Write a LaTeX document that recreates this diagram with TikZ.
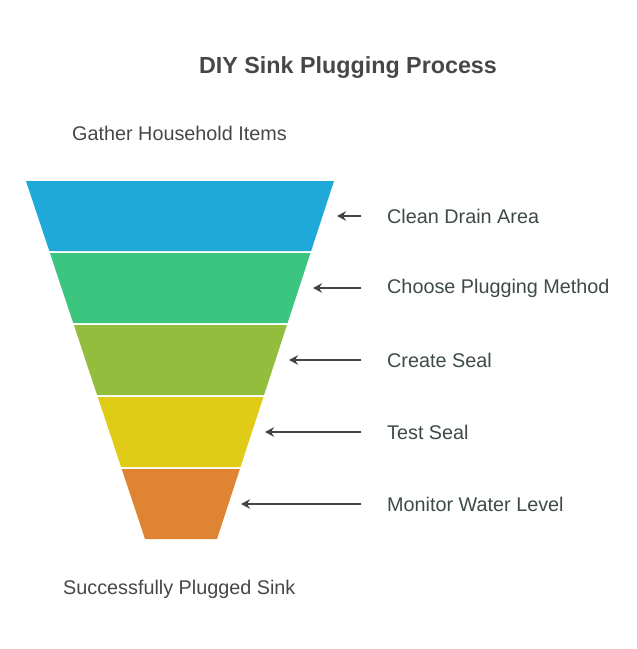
\documentclass[tikz,border=0pt]{standalone}
\usepackage{fontspec}
\setmainfont{Liberation Sans}
\usetikzlibrary{arrows.meta}
\definecolor{cBlue}{HTML}{1FA9D8}
\definecolor{cGreen}{HTML}{3CC57F}
\definecolor{cOlive}{HTML}{93BD3C}
\definecolor{cYellow}{HTML}{E0CB17}
\definecolor{cOrange}{HTML}{DF8432}
\definecolor{cText}{HTML}{3D4A48}
\definecolor{cTitle}{HTML}{474747}
\definecolor{cArrow}{HTML}{444444}
\begin{document}
\begin{tikzpicture}[x=1pt, y=-1pt, line join=round,
	step label/.style={anchor=west, inner sep=0pt, text=cText, font=\fontsize{19.8}{22}\selectfont},
	end label/.style={anchor=west, inner sep=0pt, text=cTitle, font=\fontsize{19.8}{22}\selectfont},
	arr/.style={-{Stealth[length=9pt, width=9.5pt]}, draw=cArrow, fill=cArrow, line width=2pt}]
		\useasboundingbox (0,0) rectangle (637,649);
		% funnel bands
		\foreach \yt/\col in {181/cBlue, 253/cGreen, 325/cOlive, 397/cYellow, 469/cOrange}{
			\pgfmathsetmacro{\yb}{\yt+70}
			\pgfmathsetmacro{\lt}{26+0.3324*(\yt-181)}
			\pgfmathsetmacro{\lb}{26+0.3324*(\yb-181)}
			\pgfmathsetmacro{\rt}{334-0.3268*(\yt-181)}
			\pgfmathsetmacro{\rb}{334-0.3268*(\yb-181)}
			\fill[\col] (\lt,\yt) -- (\rt,\yt) -- (\rb,\yb) -- (\lb,\yb) -- cycle;
		}
		\node (title) at (348,67.5) {\fontsize{23.3}{26}\selectfont\bfseries\color{cTitle}DIY Sink Plugging Process};
		\node[end label] (start) at (72,133) {Gather Household Items};
		\node[end label] (finish) at (63,589) {Successfully Plugged Sink};
		\node[step label] (s1) at (387,216.5) {Clean Drain Area};
		\node[step label] (s2) at (387,288.5) {Choose Plugging Method};
		\node[step label] (s3) at (387,360.5) {Create Seal};
		\node[step label] (s4) at (387,432.5) {Test Seal};
		\node[step label] (s5) at (387,504.5) {Monitor Water Level};
		\coordinate (t1) at (337,216);
		\coordinate (t2) at (313,288);
		\coordinate (t3) at (289,360);
		\coordinate (t4) at (265,432);
		\coordinate (t5) at (241,504);
		\foreach \i in {1,...,5}
			\draw[arr] (t\i -| 361,0) -- (t\i);
\end{tikzpicture}
\end{document}
